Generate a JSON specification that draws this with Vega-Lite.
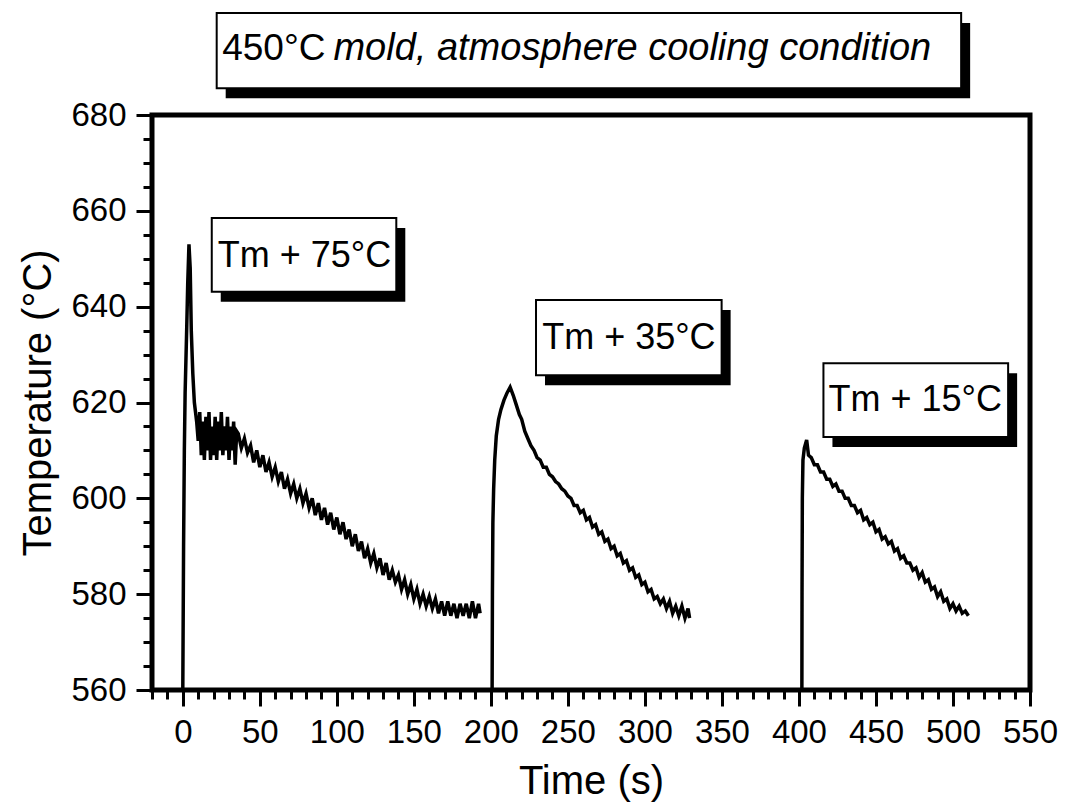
{
  "$schema": "https://vega.github.io/schema/vega-lite/v6.json",
  "width": 878,
  "height": 575,
  "autosize": {"type": "none"},
  "padding": {"left": 152, "top": 115, "right": 35, "bottom": 117},
  "background": "white",
  "config": {
    "view": {"stroke": "black", "strokeWidth": 5},
    "font": "Liberation Sans"
  },
  "datasets": {
    "curve": [
      {"run": "A", "t": 0, "T": 560}, {"run": "A", "t": 0.5, "T": 590}, {"run": "A", "t": 1, "T": 610}, {"run": "A", "t": 1.5, "T": 622},
      {"run": "A", "t": 2.5, "T": 635}, {"run": "A", "t": 3.2, "T": 645}, {"run": "A", "t": 4, "T": 653}, {"run": "A", "t": 4.8, "T": 648},
      {"run": "A", "t": 5.5, "T": 635}, {"run": "A", "t": 6.5, "T": 626}, {"run": "A", "t": 7.5, "T": 620}, {"run": "A", "t": 9, "T": 616},
      {"run": "A", "t": 10, "T": 612}, {"run": "A", "t": 11, "T": 618}, {"run": "A", "t": 12, "T": 609}, {"run": "A", "t": 13, "T": 616},
      {"run": "A", "t": 14, "T": 608}, {"run": "A", "t": 15, "T": 617}, {"run": "A", "t": 16, "T": 610}, {"run": "A", "t": 17, "T": 618},
      {"run": "A", "t": 18, "T": 608}, {"run": "A", "t": 19, "T": 615}, {"run": "A", "t": 20, "T": 609}, {"run": "A", "t": 21, "T": 617},
      {"run": "A", "t": 22, "T": 608}, {"run": "A", "t": 23, "T": 616}, {"run": "A", "t": 24, "T": 610}, {"run": "A", "t": 25, "T": 618},
      {"run": "A", "t": 26, "T": 609}, {"run": "A", "t": 27, "T": 615}, {"run": "A", "t": 28, "T": 610}, {"run": "A", "t": 29, "T": 617},
      {"run": "A", "t": 30, "T": 608}, {"run": "A", "t": 31, "T": 615}, {"run": "A", "t": 32, "T": 610}, {"run": "A", "t": 33, "T": 616},
      {"run": "A", "t": 34, "T": 607}, {"run": "A", "t": 35, "T": 614},
      {"run": "A", "t": 36, "T": 613.5}, {"run": "A", "t": 38, "T": 610.5}, {"run": "A", "t": 40, "T": 612.5}, {"run": "A", "t": 42, "T": 609.5},
      {"run": "A", "t": 44, "T": 611}, {"run": "A", "t": 46, "T": 607.5}, {"run": "A", "t": 48, "T": 610}, {"run": "A", "t": 50, "T": 606.5},
      {"run": "A", "t": 52, "T": 609}, {"run": "A", "t": 54, "T": 605.5}, {"run": "A", "t": 56, "T": 607.5}, {"run": "A", "t": 58, "T": 604.5},
      {"run": "A", "t": 60, "T": 606.5}, {"run": "A", "t": 62, "T": 603.5}, {"run": "A", "t": 64, "T": 605.5}, {"run": "A", "t": 66, "T": 602},
      {"run": "A", "t": 68, "T": 604}, {"run": "A", "t": 70, "T": 601}, {"run": "A", "t": 72, "T": 603}, {"run": "A", "t": 74, "T": 600},
      {"run": "A", "t": 76, "T": 602}, {"run": "A", "t": 78, "T": 599}, {"run": "A", "t": 80, "T": 601}, {"run": "A", "t": 82, "T": 598},
      {"run": "A", "t": 84, "T": 600}, {"run": "A", "t": 86, "T": 596.5}, {"run": "A", "t": 88, "T": 599}, {"run": "A", "t": 90, "T": 595.5},
      {"run": "A", "t": 92, "T": 598}, {"run": "A", "t": 94, "T": 594.5}, {"run": "A", "t": 96, "T": 597}, {"run": "A", "t": 98, "T": 593.5},
      {"run": "A", "t": 100, "T": 596}, {"run": "A", "t": 102, "T": 592.5}, {"run": "A", "t": 104, "T": 595}, {"run": "A", "t": 106, "T": 591.5},
      {"run": "A", "t": 108, "T": 593.5}, {"run": "A", "t": 110, "T": 590}, {"run": "A", "t": 112, "T": 592.5}, {"run": "A", "t": 114, "T": 589},
      {"run": "A", "t": 116, "T": 591}, {"run": "A", "t": 118, "T": 587.5}, {"run": "A", "t": 120, "T": 589.5}, {"run": "A", "t": 122, "T": 586.5},
      {"run": "A", "t": 124, "T": 588.5}, {"run": "A", "t": 126, "T": 585.5}, {"run": "A", "t": 128, "T": 587.5}, {"run": "A", "t": 130, "T": 584},
      {"run": "A", "t": 132, "T": 586.5}, {"run": "A", "t": 134, "T": 583}, {"run": "A", "t": 136, "T": 585}, {"run": "A", "t": 138, "T": 582.5},
      {"run": "A", "t": 140, "T": 584}, {"run": "A", "t": 142, "T": 581}, {"run": "A", "t": 144, "T": 583}, {"run": "A", "t": 146, "T": 580},
      {"run": "A", "t": 148, "T": 582}, {"run": "A", "t": 150, "T": 579}, {"run": "A", "t": 152, "T": 581}, {"run": "A", "t": 154, "T": 578},
      {"run": "A", "t": 156, "T": 580}, {"run": "A", "t": 158, "T": 577.5}, {"run": "A", "t": 160, "T": 579.5}, {"run": "A", "t": 162, "T": 577},
      {"run": "A", "t": 164, "T": 579}, {"run": "A", "t": 166, "T": 576}, {"run": "A", "t": 168, "T": 578.5}, {"run": "A", "t": 170, "T": 575.5},
      {"run": "A", "t": 172, "T": 578.5}, {"run": "A", "t": 174, "T": 575.5}, {"run": "A", "t": 176, "T": 578}, {"run": "A", "t": 178, "T": 575},
      {"run": "A", "t": 180, "T": 578}, {"run": "A", "t": 182, "T": 575.5}, {"run": "A", "t": 184, "T": 578}, {"run": "A", "t": 186, "T": 575},
      {"run": "A", "t": 188, "T": 578.5}, {"run": "A", "t": 190, "T": 575}, {"run": "A", "t": 192, "T": 578}, {"run": "A", "t": 193, "T": 576},

      {"run": "B", "t": 200.8, "T": 560}, {"run": "B", "t": 201, "T": 580}, {"run": "B", "t": 201.3, "T": 595}, {"run": "B", "t": 201.8, "T": 602},
      {"run": "B", "t": 202.5, "T": 608}, {"run": "B", "t": 203.5, "T": 613}, {"run": "B", "t": 205, "T": 616.5}, {"run": "B", "t": 206.5, "T": 618.5},
      {"run": "B", "t": 208.5, "T": 620.5}, {"run": "B", "t": 210.5, "T": 622}, {"run": "B", "t": 212.5, "T": 623.2}, {"run": "B", "t": 214.5, "T": 621.5},
      {"run": "B", "t": 216.5, "T": 619.5}, {"run": "B", "t": 218.5, "T": 617.5}, {"run": "B", "t": 220, "T": 616.5}, {"run": "B", "t": 222, "T": 614},
      {"run": "B", "t": 224, "T": 612.5}, {"run": "B", "t": 226, "T": 611}, {"run": "B", "t": 228, "T": 610}, {"run": "B", "t": 230, "T": 608.5},
      {"run": "B", "t": 232, "T": 608}, {"run": "B", "t": 234, "T": 606.5}, {"run": "B", "t": 236, "T": 606.5}, {"run": "B", "t": 238, "T": 605},
      {"run": "B", "t": 240, "T": 604.5}, {"run": "B", "t": 242, "T": 603.5}, {"run": "B", "t": 244, "T": 603}, {"run": "B", "t": 246, "T": 602},
      {"run": "B", "t": 248, "T": 601.5}, {"run": "B", "t": 250, "T": 600.5}, {"run": "B", "t": 252, "T": 600}, {"run": "B", "t": 254, "T": 598.5},
      {"run": "B", "t": 256, "T": 598.5}, {"run": "B", "t": 258, "T": 597}, {"run": "B", "t": 260, "T": 597.5}, {"run": "B", "t": 262, "T": 595.5},
      {"run": "B", "t": 264, "T": 596}, {"run": "B", "t": 266, "T": 594}, {"run": "B", "t": 268, "T": 594.5}, {"run": "B", "t": 270, "T": 592.5},
      {"run": "B", "t": 272, "T": 593}, {"run": "B", "t": 274, "T": 591}, {"run": "B", "t": 276, "T": 591.5}, {"run": "B", "t": 278, "T": 589.5},
      {"run": "B", "t": 280, "T": 590}, {"run": "B", "t": 282, "T": 588}, {"run": "B", "t": 284, "T": 588.5}, {"run": "B", "t": 286, "T": 586.5},
      {"run": "B", "t": 288, "T": 587}, {"run": "B", "t": 290, "T": 585}, {"run": "B", "t": 292, "T": 585.5}, {"run": "B", "t": 294, "T": 583.5},
      {"run": "B", "t": 296, "T": 584}, {"run": "B", "t": 298, "T": 582}, {"run": "B", "t": 300, "T": 582.5}, {"run": "B", "t": 302, "T": 580.5},
      {"run": "B", "t": 304, "T": 581}, {"run": "B", "t": 306, "T": 579}, {"run": "B", "t": 308, "T": 579.5}, {"run": "B", "t": 310, "T": 578},
      {"run": "B", "t": 312, "T": 579}, {"run": "B", "t": 314, "T": 577}, {"run": "B", "t": 316, "T": 578.5}, {"run": "B", "t": 318, "T": 576},
      {"run": "B", "t": 320, "T": 577.5}, {"run": "B", "t": 322, "T": 575.5}, {"run": "B", "t": 324, "T": 577.5}, {"run": "B", "t": 326, "T": 575},
      {"run": "B", "t": 328, "T": 577}, {"run": "B", "t": 329, "T": 575},

      {"run": "C", "t": 401.9, "T": 560}, {"run": "C", "t": 402, "T": 580}, {"run": "C", "t": 402.2, "T": 600}, {"run": "C", "t": 402.6, "T": 608},
      {"run": "C", "t": 403.5, "T": 610.5}, {"run": "C", "t": 405, "T": 612.2}, {"run": "C", "t": 406.2, "T": 609}, {"run": "C", "t": 408, "T": 608.5},
      {"run": "C", "t": 410, "T": 607}, {"run": "C", "t": 412, "T": 607}, {"run": "C", "t": 414, "T": 605.5}, {"run": "C", "t": 416, "T": 605.5},
      {"run": "C", "t": 418, "T": 604}, {"run": "C", "t": 420, "T": 604}, {"run": "C", "t": 422, "T": 602.5}, {"run": "C", "t": 424, "T": 603},
      {"run": "C", "t": 426, "T": 601.5}, {"run": "C", "t": 428, "T": 601.5}, {"run": "C", "t": 430, "T": 600}, {"run": "C", "t": 432, "T": 600},
      {"run": "C", "t": 434, "T": 598.5}, {"run": "C", "t": 436, "T": 598.5}, {"run": "C", "t": 438, "T": 597}, {"run": "C", "t": 440, "T": 597.5},
      {"run": "C", "t": 442, "T": 595.5}, {"run": "C", "t": 444, "T": 596}, {"run": "C", "t": 446, "T": 594.5}, {"run": "C", "t": 448, "T": 595},
      {"run": "C", "t": 450, "T": 593}, {"run": "C", "t": 452, "T": 593.5}, {"run": "C", "t": 454, "T": 591.5}, {"run": "C", "t": 456, "T": 592},
      {"run": "C", "t": 458, "T": 590.5}, {"run": "C", "t": 460, "T": 591}, {"run": "C", "t": 462, "T": 589}, {"run": "C", "t": 464, "T": 589.5},
      {"run": "C", "t": 466, "T": 587.5}, {"run": "C", "t": 468, "T": 588}, {"run": "C", "t": 470, "T": 586.5}, {"run": "C", "t": 472, "T": 586.5},
      {"run": "C", "t": 474, "T": 585}, {"run": "C", "t": 476, "T": 585.5}, {"run": "C", "t": 478, "T": 583.5}, {"run": "C", "t": 480, "T": 584.5},
      {"run": "C", "t": 482, "T": 582.5}, {"run": "C", "t": 484, "T": 583}, {"run": "C", "t": 486, "T": 581}, {"run": "C", "t": 488, "T": 581.5},
      {"run": "C", "t": 490, "T": 579.5}, {"run": "C", "t": 492, "T": 580.5}, {"run": "C", "t": 494, "T": 578.5}, {"run": "C", "t": 496, "T": 579},
      {"run": "C", "t": 498, "T": 577}, {"run": "C", "t": 500, "T": 578}, {"run": "C", "t": 502, "T": 576.5}, {"run": "C", "t": 504, "T": 577.5},
      {"run": "C", "t": 506, "T": 576}, {"run": "C", "t": 508, "T": 576.5}, {"run": "C", "t": 510, "T": 575.5}
    ],
    "boxes": [
      {"label": "title", "x1": 22, "x2": 505.3, "y1": 701.3, "y2": 685.6},
      {"label": "Tm + 75°C", "x1": 18.8, "x2": 138.6, "y1": 658.5, "y2": 643.1},
      {"label": "Tm + 35°C", "x1": 229.3, "x2": 349.8, "y1": 641.4, "y2": 625.7},
      {"label": "Tm + 15°C", "x1": 415.9, "x2": 535.8, "y1": 628.2, "y2": 612.8}
    ],
    "labels": [
      {"text": "Tm + 75°C", "x": 79, "y": 650.6},
      {"text": "Tm + 35°C", "x": 289.6, "y": 633.5},
      {"text": "Tm + 15°C", "x": 475.5, "y": 620.5}
    ],
    "titleparts": [
      {"text": "450°C", "x": 92.6, "y": 693.8, "part": "a"},
      {"text": "mold, atmosphere cooling condition", "x": 97.8, "y": 693.8, "part": "b"}
    ]
  },
  "layer": [
    {
      "data": {"name": "curve"},
      "mark": {"type": "line", "color": "black", "strokeWidth": 3.5, "strokeJoin": "miter"},
      "encoding": {
        "x": {
          "field": "t", "type": "quantitative",
          "scale": {"domain": [-20, 550], "nice": false, "zero": false},
          "axis": {
            "title": "Time (s)",
            "values": [-20,-10,0,10,20,30,40,50,60,70,80,90,100,110,120,130,140,150,160,170,180,190,200,210,220,230,240,250,260,270,280,290,300,310,320,330,340,350,360,370,380,390,400,410,420,430,440,450,460,470,480,490,500,510,520,530,540,550],
            "tickCount": 500,
            "labelExpr": "datum.value % 50 === 0 ? datum.label : ''",
            "labelOverlap": false,
            "labelFlush": false,
            "format": "d",
            "domain": false,
            "grid": false,
            "ticks": true,
            "tickColor": "black",
            "tickWidth": 3,
            "tickSize": {"condition": {"test": "datum.value % 50 === 0", "value": 16}, "value": 9},
            "labelFont": "Liberation Sans",
            "labelFontSize": 33,
            "labelColor": "black",
            "labelPadding": 10,
            "titleFont": "Liberation Sans",
            "titleFontSize": 40,
            "titleFontWeight": "normal",
            "titleColor": "black",
            "titlePadding": 12
          }
        },
        "y": {
          "field": "T", "type": "quantitative",
          "scale": {"domain": [560, 680], "nice": false, "zero": false},
          "axis": {
            "title": "Temperature (°C)",
            "values": [560,565,570,575,580,585,590,595,600,605,610,615,620,625,630,635,640,645,650,655,660,665,670,675,680],
            "tickCount": 500,
            "labelExpr": "datum.value % 20 === 0 ? datum.label : ''",
            "labelOverlap": false,
            "labelFlush": false,
            "format": "d",
            "domain": false,
            "grid": false,
            "tickColor": "black",
            "tickWidth": 3,
            "tickSize": {"condition": {"test": "datum.value % 20 === 0", "value": 16}, "value": 9},
            "labelFont": "Liberation Sans",
            "labelFontSize": 33,
            "labelColor": "black",
            "labelPadding": 10,
            "titleFont": "Liberation Sans",
            "titleFontSize": 40,
            "titleFontWeight": "normal",
            "titleColor": "black",
            "titlePadding": 12
          }
        },
        "detail": {"field": "run"}
      }
    },
    {
      "data": {"name": "boxes"},
      "mark": {"type": "rect", "color": "black", "xOffset": 9, "x2Offset": 9, "yOffset": 10, "y2Offset": 10},
      "encoding": {
        "x": {"field": "x1", "type": "quantitative"},
        "x2": {"field": "x2"},
        "y": {"field": "y1", "type": "quantitative"},
        "y2": {"field": "y2"}
      }
    },
    {
      "data": {"name": "boxes"},
      "mark": {"type": "rect", "fill": "white", "stroke": "black", "strokeWidth": 2},
      "encoding": {
        "x": {"field": "x1", "type": "quantitative"},
        "x2": {"field": "x2"},
        "y": {"field": "y1", "type": "quantitative"},
        "y2": {"field": "y2"}
      }
    },
    {
      "data": {"name": "labels"},
      "mark": {"type": "text", "font": "Liberation Sans", "fontSize": 36, "color": "black", "align": "center", "baseline": "middle"},
      "encoding": {
        "x": {"field": "x", "type": "quantitative"},
        "y": {"field": "y", "type": "quantitative"},
        "text": {"field": "text"}
      }
    },
    {
      "data": {"name": "titleparts"},
      "transform": [{"filter": "datum.part === 'a'"}],
      "mark": {"type": "text", "font": "Liberation Sans", "fontSize": 37, "color": "black", "align": "right", "baseline": "middle"},
      "encoding": {
        "x": {"field": "x", "type": "quantitative"},
        "y": {"field": "y", "type": "quantitative"},
        "text": {"field": "text"}
      }
    },
    {
      "data": {"name": "titleparts"},
      "transform": [{"filter": "datum.part === 'b'"}],
      "mark": {"type": "text", "font": "Liberation Sans", "fontSize": 38, "fontStyle": "italic", "color": "black", "align": "left", "baseline": "middle"},
      "encoding": {
        "x": {"field": "x", "type": "quantitative"},
        "y": {"field": "y", "type": "quantitative"},
        "text": {"field": "text"}
      }
    }
  ]
}
